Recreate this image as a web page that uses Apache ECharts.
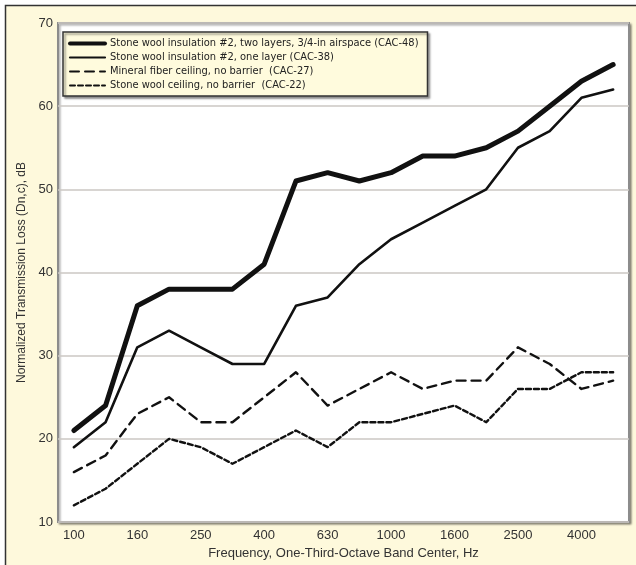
<!DOCTYPE html>
<html>
<head>
<meta charset="utf-8">
<script src="https://cdn.jsdelivr.net/npm/echarts@6/dist/echarts.min.js"></script>
<style>
  html, body { margin: 0; padding: 0; background: #fff; }
  #chart { width: 636px; height: 565px; }
</style>
</head>
<body>
<div id="chart"></div>
<script>
// third-octave band centres, Hz
var freqs = ['100', '125', '160', '200', '250', '315', '400', '500', '630', '800',
  '1000', '1250', '1600', '2000', '2500', '3150', '4000', '5000'];

var twoLayers = [21, 24, 36, 38, 38, 38, 41, 51, 52, 51, 52, 54, 54, 55, 57, 60, 63, 65];
var oneLayer = [19, 22, 31, 33, 31, 29, 29, 36, 37, 41, 44, 46, 48, 50, 55, 57, 61, 62];
var mineralFiber = [16, 18, 23, 25, 22, 22, 25, 28, 24, 26, 28, 26, 27, 27, 31, 29, 26, 27];
var stoneCeiling = [12, 14, 17, 20, 19, 17, 19, 21, 19, 22, 22, 23, 24, 22, 26, 26, 28, 28];

var seriesNames = [
  'Stone wool insulation #2, two layers, 3/4-in airspace (CAC-48)',
  'Stone wool insulation #2, one layer (CAC-38)',
  'Mineral fiber ceiling, no barrier  (CAC-27)',
  'Stone wool ceiling, no barrier  (CAC-22)'
];

var yMin = 10, yMax = 70, yStep = 10;

var ink = '#111';
var labelFont = "'Liberation Sans', Arial, sans-serif";
var narrowFont = "'Liberation Sans Narrow', 'DejaVu Sans Condensed', sans-serif";

var chart = echarts.init(document.getElementById('chart'));

function lineSeries(name, data, width, dash) {
  return {
    name: name,
    type: 'line',
    data: data,
    symbol: 'none',
    z: 5,
    lineStyle: { color: ink, width: width, type: dash, cap: 'round', join: 'round' },
    itemStyle: { color: ink }
  };
}

// legend entries: line only, no marker
var legendWidths = [4, 2.2, 2, 2];
var legendData = seriesNames.map(function (n, i) {
  return { name: n, lineStyle: { width: legendWidths[i] }, itemStyle: { opacity: 0 } };
});

var option = {
  backgroundColor: '#fff',
  animation: false,
  graphic: [{
    type: 'rect',
    z: -10,
    shape: { x: 5.5, y: 5.5, width: 700, height: 700 },
    style: { fill: '#fef9dc', stroke: '#333', lineWidth: 1.5 }
  }],
  grid: {
    left: 58,
    right: 7,
    top: 23,
    bottom: 43,
    show: true,
    backgroundColor: '#fff',
    borderColor: '#8c8c8c',
    borderWidth: 2,
    shadowColor: 'rgba(0,0,0,0.35)',
    shadowOffsetX: 1.5,
    shadowOffsetY: 1.5,
    shadowBlur: 2
  },
  legend: {
    orient: 'vertical',
    left: 63,
    top: 32,
    padding: [6, 9, 5, 5],
    itemWidth: 35,
    itemHeight: 10,
    itemGap: 3,
    itemStyle: { opacity: 0 },
    backgroundColor: '#fffbdd',
    borderColor: '#333',
    borderWidth: 1.5,
    shadowColor: 'rgba(0,0,0,0.4)',
    shadowOffsetX: 2,
    shadowOffsetY: 2,
    shadowBlur: 2,
    textStyle: { fontFamily: narrowFont, fontSize: 11, lineHeight: 11, color: '#222' },
    data: legendData
  },
  xAxis: {
    type: 'category',
    data: freqs,
    boundaryGap: true,
    name: 'Frequency, One-Third-Octave Band Center, Hz',
    nameLocation: 'middle',
    nameGap: 22,
    nameTextStyle: { fontFamily: labelFont, fontSize: 13, color: '#333' },
    axisLine: { show: false },
    axisTick: { show: false },
    axisLabel: { interval: 1, margin: 7, fontFamily: labelFont, fontSize: 13, color: '#333' }
  },
  yAxis: {
    type: 'value',
    min: yMin,
    max: yMax,
    interval: yStep,
    name: 'Normalized Transmission Loss (Dn,c), dB',
    nameLocation: 'middle',
    nameGap: 30,
    nameTextStyle: { fontFamily: labelFont, fontSize: 12, color: '#333' },
    axisLine: { show: false },
    axisTick: { show: false },
    axisLabel: { margin: 5, fontFamily: labelFont, fontSize: 13, color: '#333' },
    splitLine: { lineStyle: { color: '#cbc7c3', width: 1.5 } }
  },
  series: [
    lineSeries(seriesNames[0], twoLayers, 5, 'solid'),
    lineSeries(seriesNames[1], oneLayer, 2.6, 'solid'),
    lineSeries(seriesNames[2], mineralFiber, 2.4, [9, 6]),
    lineSeries(seriesNames[3], stoneCeiling, 2.4, [5, 3])
  ]
};

chart.setOption(option);
window.addEventListener('resize', function () {
  chart.resize();
});
</script>
</body>
</html>
